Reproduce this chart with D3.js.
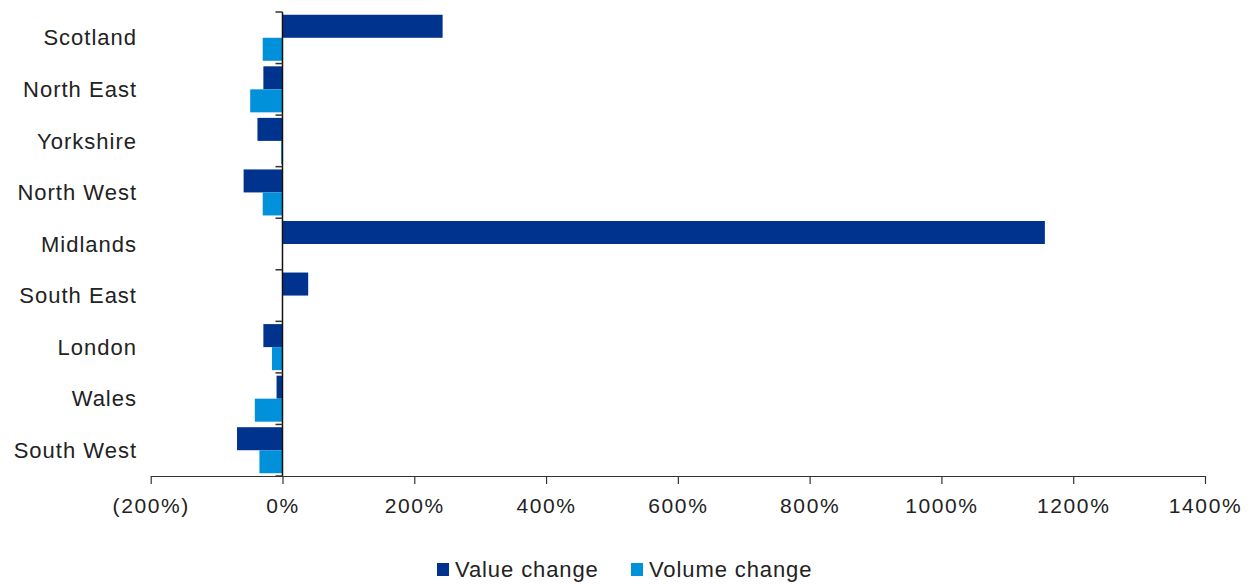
<!DOCTYPE html>
<html>
<head>
<meta charset="utf-8">
<script src="https://cdn.jsdelivr.net/npm/d3@7"></script>
<style>
  html, body { margin: 0; padding: 0; background: #fff; }
  svg { display: block; font-family: "Liberation Sans", Arial, sans-serif; }
</style>
</head>
<body>
<svg id="chart" width="1253" height="585"></svg>
<script>
// Regional change, percent
const regions = ["Scotland", "North East", "Yorkshire", "North West", "Midlands",
                 "South East", "London", "Wales", "South West"];
const valueChange  = [243, -29, -38, -59, 1157, 39, -29, -9, -69];
const volumeChange = [-30, -49, -2, -30, 0, 0, -16, -42, -35];
const seriesNames = ["Value change", "Volume change"];
const seriesColors = ["#00338D", "#0091DA"];
const xTicks = [-200, 0, 200, 400, 600, 800, 1000, 1200, 1400];

const svg = d3.select("#chart");
const textColor = "#222";

const x = d3.scaleLinear().domain([-200, 1400]).range([150.7, 1205]);
const y = d3.scaleBand().domain(regions).range([12, 476]);
const inner = d3.scaleBand().domain(seriesNames).range([0, y.bandwidth()]).paddingOuter(0.12);

const rows = regions.map((r, i) => ({ region: r, vals: [valueChange[i], volumeChange[i]] }));

// bars
const g = svg.append("g");
rows.forEach(row => {
  row.vals.forEach((v, k) => {
    if (v === 0) return;
    g.append("rect")
      .attr("x", x(Math.min(0, v)))
      .attr("width", Math.abs(x(v) - x(0)))
      .attr("y", y(row.region) + inner(seriesNames[k]))
      .attr("height", inner.bandwidth())
      .attr("fill", seriesColors[k]);
  });
});

// x axis
const fmt = d => d < 0 ? `(${Math.abs(d)}%)` : `${d}%`;
const xAxis = svg.append("g")
  .attr("transform", "translate(0,476)")
  .call(d3.axisBottom(x).tickValues(xTicks).tickFormat(fmt).tickSize(8).tickSizeOuter(0));
xAxis.select(".domain").attr("stroke", "#333").attr("stroke-width", 1.2);
xAxis.selectAll(".tick line").attr("stroke", "#333").attr("stroke-width", 1.2);
xAxis.selectAll(".tick text")
  .attr("y", 22).attr("dy", "0.71em")
  .attr("fill", textColor)
  .style("font-size", "21px")
  .style("letter-spacing", "1.6px");

// y axis through zero, ticks at category boundaries
const yAxisG = svg.append("g").attr("transform", `translate(${x(0)},0)`);
yAxisG.append("line")
  .attr("y1", 12).attr("y2", 476)
  .attr("stroke", "#111").attr("stroke-width", 1.5);
const bounds = regions.map(r => y(r)).concat([476]);
yAxisG.selectAll("line.tick").data(bounds).join("line")
  .attr("class", "tick")
  .attr("x1", -7).attr("x2", 0)
  .attr("y1", d => d).attr("y2", d => d)
  .attr("stroke", "#333").attr("stroke-width", 1.5);

// category labels
svg.append("g").selectAll("text").data(regions).join("text")
  .attr("x", 137)
  .attr("y", d => y(d) + y.bandwidth() / 2)
  .attr("dy", "0.35em")
  .attr("text-anchor", "end")
  .attr("fill", textColor)
  .style("font-size", "22px")
  .style("letter-spacing", "1px")
  .text(d => d);

// legend
const legendItems = [{ name: seriesNames[0], color: seriesColors[0], x: 437 },
                     { name: seriesNames[1], color: seriesColors[1], x: 631 }];
const lg = svg.append("g");
legendItems.forEach(it => {
  lg.append("rect").attr("x", it.x).attr("y", 563).attr("width", 12).attr("height", 13).attr("fill", it.color);
  lg.append("text").attr("x", it.x + 18).attr("y", 577)
    .attr("fill", textColor)
    .style("font-size", "22px")
    .style("letter-spacing", "0.9px")
    .text(it.name);
});
</script>
</body>
</html>
